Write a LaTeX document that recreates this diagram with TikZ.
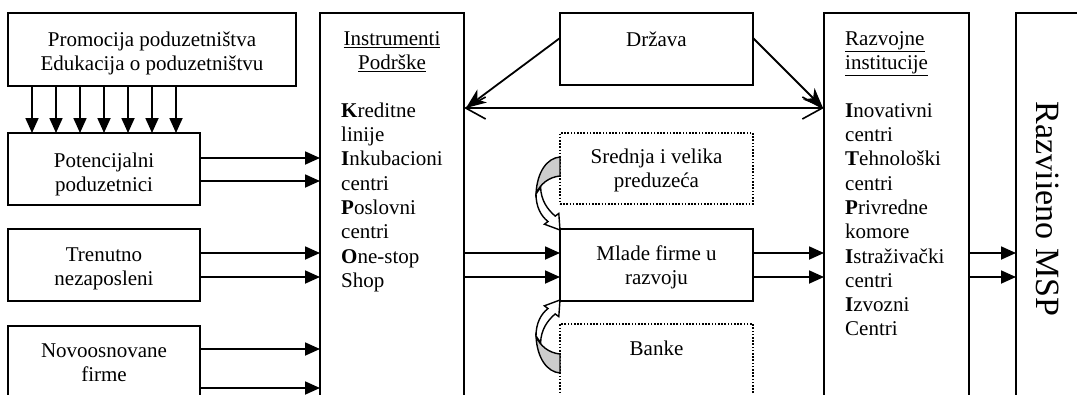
\documentclass[tikz,border=0pt]{standalone}
\usepackage{fontspec}
\setmainfont{Liberation Serif}
\usetikzlibrary{arrows.meta}
\begin{document}
\begin{tikzpicture}[x=1pt,y=-1pt,
  box/.style={draw, line width=1.8pt, inner sep=0pt, outer sep=0pt, anchor=north west},
  dotbox/.style={box, dash pattern=on 1.6pt off 1.6pt, line width=1.6pt},
  txt/.style={inner sep=0pt, anchor=north, align=center, font=\fontsize{21}{24.3}\selectfont},
  ltxt/.style={txt, anchor=north west, align=left},
  arr/.style={line width=1.8pt, -{Triangle[length=15pt,width=13pt]}},
  diag/.style={line width=1.8pt, -{Stealth[length=20pt,width=16pt,inset=6pt]}},
  dbl/.style={line width=1.6pt, {Straight Barb[length=20pt,width=22pt]}-{Straight Barb[length=20pt,width=22pt]}},
  crescent/.style={draw, line width=1.4pt, fill=gray!40},
  band/.style={draw, line width=1.4pt, fill=white}
]
\useasboundingbox (0,0) rectangle (1077,394);
\clip (0,0) rectangle (1077,394);

% boxes
\node[box, minimum width=288pt, minimum height=73pt] (prom) at (8,13) {};
\node[box, minimum width=192pt, minimum height=72pt] (pot) at (8,133) {};
\node[box, minimum width=192pt, minimum height=72pt] (tren) at (8,229) {};
\node[box, minimum width=192pt, minimum height=100pt] (novo) at (8,326) {};
\node[box, minimum width=144pt, minimum height=400pt] (inst) at (320,13) {};
\node[box, minimum width=193pt, minimum height=72pt] (drz) at (560,13) {};
\node[dotbox, minimum width=193pt, minimum height=71pt] (sred) at (560,133) {};
\node[box, minimum width=193pt, minimum height=72pt] (mlade) at (560,229) {};
\node[dotbox, minimum width=193pt, minimum height=100pt] (banke) at (560,324) {};
\node[box, minimum width=145pt, minimum height=400pt] (razv) at (824,13) {};
\node[box, minimum width=90pt, minimum height=400pt] (msp) at (1016,13) {};

% texts
\node[txt] (tprom) at ([yshift=-16pt]prom.north) {\strut Promocija poduzetništva\\Edukacija o poduzetništvu};
\node[txt] (tpot) at ([yshift=-17pt]pot.north) {\strut Potencijalni\\poduzetnici};
\node[txt] (ttren) at ([yshift=-15pt]tren.north) {\strut Trenutno\\nezaposleni};
\node[txt] (tnovo) at ([yshift=-14pt]novo.north) {\strut Novoosnovane\\firme};
\node[txt] (tinsth) at ([yshift=-15pt]inst.north) {\strut\underline{Instrumenti}\\\underline{Podrške}};
\node[ltxt] (tinstl) at ([xshift=21pt,yshift=-87pt]inst.north west) {\strut\textbf{K}reditne\\linije\\\textbf{I}nkubacioni\\centri\\\textbf{P}oslovni\\centri\\\textbf{O}ne-stop\\Shop};
\node[txt] (tdrz) at ([yshift=-16pt]drz.north) {\strut Država};
\node[txt] (tsred) at ([yshift=-13pt]sred.north) {\strut Srednja i velika\\preduzeća};
\node[txt] (tmlade) at ([yshift=-14pt]mlade.north) {\strut Mlade firme u\\razvoju};
\node[txt] (tbanke) at ([yshift=-14pt]banke.north) {\strut Banke};
\node[ltxt] (trazvh) at ([xshift=21pt,yshift=-15pt]razv.north west) {\strut\underline{Razvojne}\\\underline{institucije}};
\node[ltxt] (trazvl) at ([xshift=21pt,yshift=-87pt]razv.north west) {\strut\textbf{I}novativni\\centri\\\textbf{T}ehnološki\\centri\\\textbf{P}rivredne\\komore\\\textbf{I}straživački\\centri\\\textbf{I}zvozni\\Centri};
\node[rotate=-90, anchor=base, inner sep=0pt, font=\fontsize{34}{40}\selectfont] (tmsp) at (1036,209) {Razviieno MSP};

% down arrows
\foreach \s in {24,48,72,96,120,144,168}
  \draw[arr] ([xshift=\s pt]prom.south west) -- ([xshift=\s pt]pot.north west);

% horizontal arrows into Instrumenti
\draw[arr] ([yshift=-25pt]pot.north east) -- ([yshift=-145pt]inst.north west);
\draw[arr] ([yshift=-48pt]pot.north east) -- ([yshift=-168pt]inst.north west);
\draw[arr] ([yshift=-24pt]tren.north east) -- ([yshift=-240pt]inst.north west);
\draw[arr] ([yshift=-48pt]tren.north east) -- ([yshift=-264pt]inst.north west);
\draw[arr] ([yshift=-23pt]novo.north east) -- ([yshift=-336pt]inst.north west);
\draw[arr] ([yshift=-62pt]novo.north east) -- ([yshift=-375pt]inst.north west);

% Instrumenti -> Mlade -> Razvojne -> MSP
\draw[arr] ([yshift=-240pt]inst.north east) -- ([yshift=-24pt]mlade.north west);
\draw[arr] ([yshift=-264pt]inst.north east) -- ([yshift=-48pt]mlade.north west);
\draw[arr] ([yshift=-24pt]mlade.north east) -- ([yshift=-240pt]razv.north west);
\draw[arr] ([yshift=-48pt]mlade.north east) -- ([yshift=-264pt]razv.north west);
\draw[arr] ([yshift=-240pt]razv.north east) -- ([yshift=-240pt]msp.north west);
\draw[arr] ([yshift=-264pt]razv.north east) -- ([yshift=-264pt]msp.north west);

% Drzava arrows
\draw[dbl] ([yshift=-95pt]inst.north east) -- ([yshift=-95pt]razv.north west);
\draw[diag] ([yshift=-25pt]drz.north west) -- ([xshift=2pt,yshift=-95pt]inst.north east);
\draw[diag] ([yshift=-25pt]drz.north east) -- ([xshift=-1pt,yshift=-95pt]razv.north west);

% curved block arrows
\path[crescent] (560,157) .. controls (547,158) and (537,172) .. (536,194) .. controls (540,184) and (549,177) .. (560,176) -- cycle;
\path[band] (536,194) .. controls (536,207) and (541,216) .. (548,221.5) -- (544.4,224.2) -- (560,230) -- (558.8,213.4) -- (555.2,216.1) .. controls (547,209) and (541,200) .. (540.6,187.3) -- cycle;
\path[crescent] (560,373) .. controls (547,372) and (537,358) .. (536,336) .. controls (540,346) and (549,353) .. (560,354) -- cycle;
\path[band] (536,336) .. controls (536,323) and (541,314) .. (548,308.5) -- (544.4,305.8) -- (560,300) -- (558.8,316.6) -- (555.2,313.9) .. controls (547,321) and (541,330) .. (540.6,342.7) -- cycle;
\end{tikzpicture}
\end{document}
